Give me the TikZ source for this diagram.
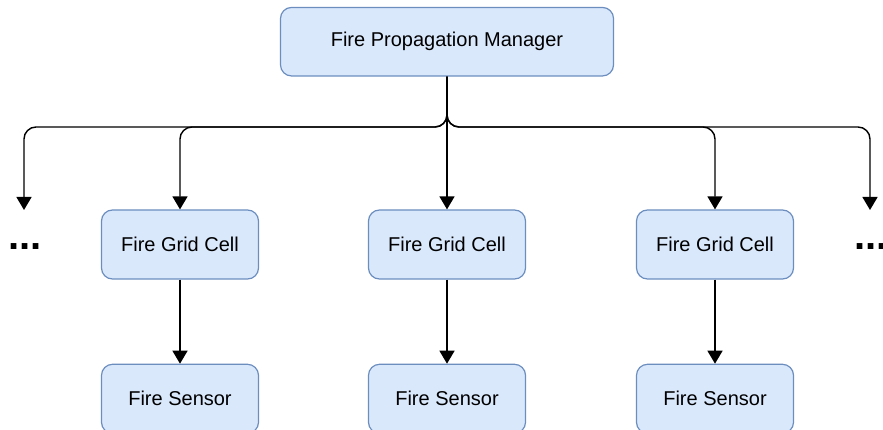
\documentclass[tikz,border=0pt]{standalone}
\usepackage{fontspec}
\setmainfont{Liberation Sans}
\usetikzlibrary{arrows.meta}
\definecolor{boxfill}{HTML}{DAE8FC}
\definecolor{boxline}{HTML}{6C8EBF}
\tikzset{
  unit/.style={draw=boxline, fill=boxfill, line width=1.2pt, rounded corners=11pt,
    minimum height=69pt, inner sep=0pt, font=\fontsize{20}{24}\selectfont},
  cellbox/.style={unit, minimum width=157pt},
  link/.style={line width=1.4pt, rounded corners=12pt,
    -{Triangle[length=13pt,width=15pt]}},
  ellip/.style={anchor=base, inner sep=0pt, font=\fontsize{40}{48}\selectfont\bfseries}
}
\begin{document}
\begin{tikzpicture}[x=1pt,y=-1pt]
  \useasboundingbox (0,0) rectangle (883,430);
  \clip (0,0) rectangle (883,430);

  % manager
  \node[unit, minimum width=333pt, minimum height=68.5pt] (mgr) at (447,41.7) {Fire Propagation Manager};

  % grid cells
  \node[cellbox] (cellA) at (180,244.5) {Fire Grid Cell};
  \node[cellbox] (cellB) at (447,244.5) {Fire Grid Cell};
  \node[cellbox] (cellC) at (715,244.5) {Fire Grid Cell};

  % sensors
  \node[cellbox] (senA) at (180,398.8) {Fire Sensor};
  \node[cellbox] (senB) at (447,398.8) {Fire Sensor};
  \node[cellbox] (senC) at (715,398.8) {Fire Sensor};

  % elided cells on both sides
  \node[ellip] (moreL) at (25,250) {...};
  \node[ellip] (moreR) at (871,250) {...};
  \coordinate (endL) at (24,210);
  \coordinate (endR) at (870,210);

  % fan-out from the manager
  \coordinate (bus) at (447,127);
  \draw[link] (mgr.south) -- (mgr.south |- bus) -- (endL |- bus) -- (endL);
  \draw[link] (mgr.south) -- (mgr.south |- bus) -- (cellA.north |- bus) -- (cellA.north);
  \draw[link] (mgr.south) -- (cellB.north);
  \draw[link] (mgr.south) -- (mgr.south |- bus) -- (cellC.north |- bus) -- (cellC.north);
  \draw[link] (mgr.south) -- (mgr.south |- bus) -- (endR |- bus) -- (endR);

  % cell to sensor
  \draw[link] (cellA.south) -- (senA.north);
  \draw[link] (cellB.south) -- (senB.north);
  \draw[link] (cellC.south) -- (senC.north);
\end{tikzpicture}
\end{document}
